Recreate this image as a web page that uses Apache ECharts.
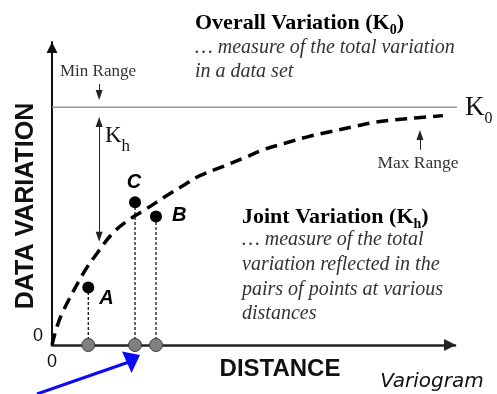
<!DOCTYPE html>
<html>
<head>
<meta charset="utf-8">
<script src="https://cdn.jsdelivr.net/npm/echarts@6/dist/echarts.min.js"></script>
<style>
  html, body { margin: 0; padding: 0; background: #fff; }
  #chart { width: 497px; height: 394px; }
</style>
</head>
<body>
<div id="chart"></div>
<script>
// Variogram curve: distance (0-100) vs. data variation (0-100)
const curveDistance = [0, 1.2, 2.8, 7.8, 11.2, 15.2, 19.6, 23.5, 28.0, 33.0, 36.7, 42.2, 47.4, 52.4, 57.8, 63.4, 69.0, 74.7, 80.1, 85.1, 90.8, 97.0];
const curveVariation = [0, 5.9, 11.3, 23.7, 30.3, 37.1, 41.8, 45.0, 48.9, 53.0, 55.9, 58.8, 61.6, 64.4, 66.6, 68.7, 70.4, 72.0, 73.5, 74.3, 75.0, 75.7];

// Sill (overall variation) level
const sillK0 = 78.5;

// Sample point pairs
const pointNames = ['A', 'C', 'B'];
const pointDistance = [9.0, 20.6, 25.8];
const pointVariation = [19.0, 47.1, 42.4];

// Axis tick labels (only the origin is labelled)
const axisTickLabels = ['0'];

const SERIF = '"Liberation Serif", "Times New Roman", serif';
const SANS = '"Liberation Sans", Arial, sans-serif';

// Annotation arrows in data coordinates: [x1, y1, x2, y2]
const khArrow = [11.7, 73.6, 11.7, 35.7];
const minRangeArrow = [11.7, 86.1, 11.7, 82.5];
const maxRangeArrow = [91.3, 64.4, 91.3, 69.3];

const chart = echarts.init(document.getElementById('chart'), null, { renderer: 'canvas' });

const pointLabelStyle = {
  A: { position: 'right', distance: 5, offset: [0, 11] },
  C: { position: 'top', distance: 4, offset: [-1, 0] },
  B: { position: 'right', distance: 10, offset: [0, -1] }
};

const dropLines = pointDistance.map((x, i) => ({
  type: 'line',
  data: [[x, 0], [x, pointVariation[i]]],
  showSymbol: false,
  symbol: 'none',
  silent: true,
  z: 1,
  lineStyle: { color: '#000', width: 1.2, type: [3, 2] }
}));

const arrowLine = (c, symbols) => ([
  { coord: [c[0], c[1]], symbol: symbols[0] },
  { coord: [c[2], c[3]], symbol: symbols[1] }
]);

const italicLine = (x, y, text) => ({
  type: 'text', x, y, z: 10,
  style: { text, font: `italic 20px ${SERIF}`, fill: '#333', align: 'left', verticalAlign: 'middle' }
});

const boldRich = {
  b: { fontFamily: SERIF, fontWeight: 'bold', fontSize: 22, lineHeight: 29, fill: '#000' },
  s: { fontFamily: SERIF, fontWeight: 'bold', fontSize: 14, lineHeight: 14, verticalAlign: 'bottom', fill: '#000' }
};

const option = {
  animation: false,
  backgroundColor: '#fff',
  grid: { left: 52, right: 42, top: 42, bottom: 49 },
  xAxis: {
    type: 'value', min: 0, max: 100, interval: 100,
    splitLine: { show: false },
    axisTick: { show: false },
    axisLine: {
      lineStyle: { color: '#222', width: 2.5 },
      symbol: ['none', 'triangle'], symbolSize: [12, 12], symbolOffset: [0, -5]
    },
    axisLabel: {
      formatter: v => (v === 0 ? axisTickLabels[0] : ''),
      fontFamily: SANS, fontSize: 18, color: '#111', margin: 8
    }
  },
  yAxis: {
    type: 'value', min: 0, max: 100, interval: 100,
    splitLine: { show: false },
    axisTick: { show: false },
    axisLine: {
      lineStyle: { color: '#111', width: 2 },
      symbol: ['none', 'triangle'], symbolSize: [11, 11], symbolOffset: [0, -5.5]
    },
    axisLabel: {
      formatter: v => (v === 0 ? axisTickLabels[0] : ''),
      fontFamily: SANS, fontSize: 18, color: '#111', margin: 9,
      verticalAlign: 'bottom', lineHeight: 18
    }
  },
  series: [
    {
      // K0 sill line
      type: 'line',
      data: [[0, sillK0], [100.5, sillK0]],
      symbol: 'none', clip: false, silent: true, z: 1,
      lineStyle: { color: '#9a9a9a', width: 1.5 }
    },
    {
      // variogram curve
      type: 'line',
      data: curveDistance.map((x, i) => [x, curveVariation[i]]),
      smooth: 0.35,
      symbol: 'none', silent: true, z: 2,
      lineStyle: { color: '#000', width: 3.5, type: [12, 7] }
    },
    ...dropLines,
    {
      // pair positions on the distance axis
      type: 'scatter',
      data: pointDistance.map(x => [x, 0]),
      symbolSize: 13, clip: false, z: 5,
      itemStyle: { color: '#808080', borderColor: '#3c3c3c', borderWidth: 1, opacity: 1 }
    },
    {
      // sample points
      type: 'scatter',
      data: pointDistance.map((x, i) => ({
        value: [x, pointVariation[i]],
        name: pointNames[i],
        label: Object.assign({ show: true, formatter: '{b}' }, pointLabelStyle[pointNames[i]])
      })),
      symbolSize: 12, z: 6,
      itemStyle: { color: '#000', opacity: 1 },
      label: {
        fontFamily: SANS, fontStyle: 'italic', fontWeight: 'bold',
        fontSize: 20, color: '#000'
      }
    },
    {
      // annotation arrows
      type: 'line',
      data: [],
      silent: true,
      markLine: {
        silent: true, animation: false,
        symbolSize: [7, 10],
        label: { show: false },
        lineStyle: { color: '#222', width: 1, type: 'solid' },
        emphasis: { disabled: true },
        data: [
          arrowLine(khArrow, ['triangle', 'triangle']),
          arrowLine(minRangeArrow, ['none', 'triangle']),
          arrowLine(maxRangeArrow, ['none', 'triangle'])
        ]
      }
    }
  ],
  graphic: [
    {
      type: 'text', x: 195, y: 23, z: 10,
      style: { text: '{b|Overall Variation (K}{s|0}{b|)}', align: 'left', verticalAlign: 'middle', rich: boldRich }
    },
    italicLine(195, 48, '… measure of the total variation'),
    italicLine(195, 72, 'in a data set'),
    {
      type: 'text', x: 242, y: 217, z: 10,
      style: { text: '{b|Joint Variation (K}{s|h}{b|)}', align: 'left', verticalAlign: 'middle', rich: boldRich }
    },
    italicLine(242, 240, '… measure of the total'),
    italicLine(242, 265, 'variation reflected in the'),
    italicLine(242, 290, 'pairs of points at various'),
    italicLine(242, 314, 'distances'),
    {
      type: 'text', x: 98, y: 72, z: 10,
      style: { text: 'Min Range', font: `17px ${SERIF}`, fill: '#333', align: 'center', verticalAlign: 'middle' }
    },
    {
      type: 'text', x: 418, y: 163, z: 10,
      style: { text: 'Max Range', font: `17.5px ${SERIF}`, fill: '#333', align: 'center', verticalAlign: 'middle' }
    },
    {
      type: 'text', x: 465, y: 108, z: 10,
      style: {
        text: '{k|K}{s|0}',
        align: 'left', verticalAlign: 'middle',
        rich: {
          k: { fontFamily: SERIF, fontSize: 27, lineHeight: 38, fill: '#111' },
          s: { fontFamily: SERIF, fontSize: 16, lineHeight: 16, verticalAlign: 'bottom', fill: '#111' }
        }
      }
    },
    {
      type: 'text', x: 105, y: 136, z: 10,
      style: {
        text: '{k|K}{s|h}',
        align: 'left', verticalAlign: 'middle',
        rich: {
          k: { fontFamily: SERIF, fontSize: 23, lineHeight: 39, fill: '#111' },
          s: { fontFamily: SERIF, fontSize: 17, lineHeight: 17, verticalAlign: 'bottom', fill: '#111' }
        }
      }
    },
    {
      type: 'text', x: 26, y: 206, rotation: Math.PI / 2, z: 10,
      style: { text: 'DATA VARIATION', font: `bold 25px ${SANS}`, fill: '#111', align: 'center', verticalAlign: 'middle' }
    },
    {
      type: 'text', x: 280, y: 369, z: 10,
      style: { text: 'DISTANCE', font: `bold 24px ${SANS}`, fill: '#111', align: 'center', verticalAlign: 'middle' }
    },
    {
      type: 'text', x: 432, y: 382, z: 10,
      style: { text: 'Variogram', font: `italic 20px "DejaVu Sans", Verdana, sans-serif`, fill: '#111', align: 'center', verticalAlign: 'middle' }
    },
    {
      // pointer arrow toward the axis
      type: 'polyline', z: 10,
      shape: { points: [[37, 394], [129, 362]] },
      style: { stroke: '#0a0af5', lineWidth: 3, fill: null }
    },
    {
      type: 'polygon', z: 10,
      shape: { points: [[140, 355], [122, 351.5], [131.5, 373]] },
      style: { fill: '#0a0af5' }
    }
  ]
};

chart.setOption(option);
</script>
</body>
</html>
